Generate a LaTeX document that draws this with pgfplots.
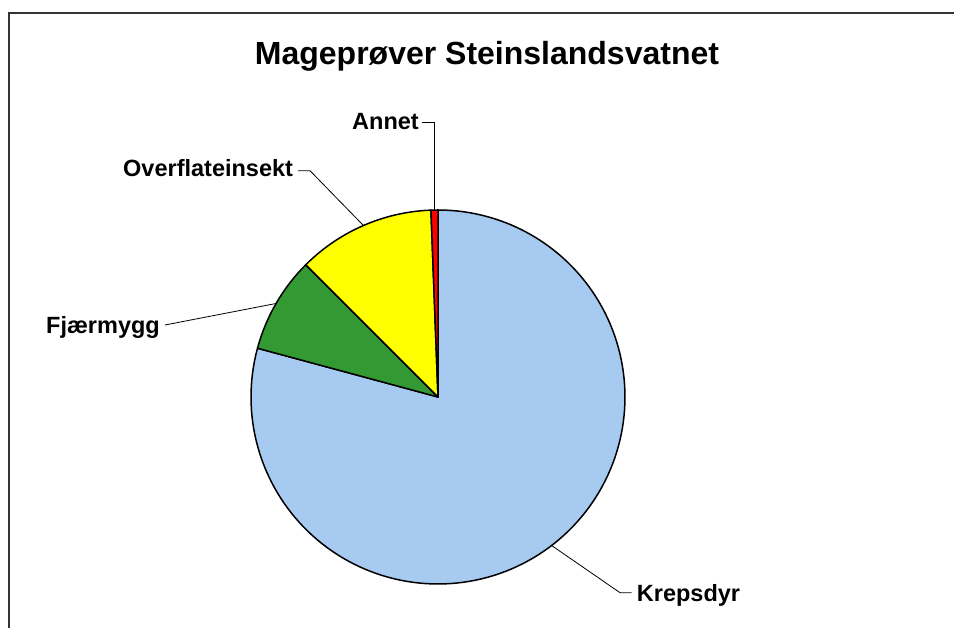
\documentclass[border=0pt]{standalone}
\usepackage{fontspec}
\setmainfont{Liberation Sans}
\usepackage{pgfplots}
\usepackage{pgfplotstable}
\pgfplotsset{compat=1.18}
\usepgfplotslibrary{polar}
\definecolor{kreps}{RGB}{166,202,240}
\definecolor{fjaer}{RGB}{51,153,51}
\definecolor{overf}{RGB}{255,255,0}
\definecolor{annet}{RGB}{255,0,0}

\pgfplotstableread{
cat value
Annet 0.6
Overflateinsekt 11.9
Fjaermygg 8.3
Krepsdyr 79.2
}\piedata

\begin{document}
\begin{tikzpicture}
\pgfplotstablegetelem{0}{value}\of\piedata \let\vA\pgfplotsretval
\pgfplotstablegetelem{1}{value}\of\piedata \let\vB\pgfplotsretval
\pgfplotstablegetelem{2}{value}\of\piedata \let\vC\pgfplotsretval
\pgfplotstablegetelem{3}{value}\of\piedata \let\vD\pgfplotsretval
\pgfmathsetmacro\aA{90}
\pgfmathsetmacro\aB{\aA+3.6*\vA}
\pgfmathsetmacro\aC{\aB+3.6*\vB}
\pgfmathsetmacro\aD{\aC+3.6*\vC}
\pgfmathsetmacro\aE{\aD+3.6*\vD}
\begin{polaraxis}[at={(438pt,231pt)}, anchor=center, scale only axis,
  width=374pt, height=374pt, hide axis, xmin=0, xmax=360, ymin=0, ymax=1, clip=false]
\addplot[fill=kreps, draw=black, line width=1.5pt, line join=round, domain=\aD:\aE, samples=150] {1} -- (axis cs:0,0) -- cycle;
\addplot[fill=fjaer, draw=black, line width=1.5pt, line join=round, domain=\aC:\aD, samples=30] {1} -- (axis cs:0,0) -- cycle;
\addplot[fill=overf, draw=black, line width=1.5pt, line join=round, domain=\aB:\aC, samples=40] {1} -- (axis cs:0,0) -- cycle;
\addplot[fill=annet, draw=black, line width=1.5pt, line join=round, domain=\aA:\aB, samples=5] {1} -- (axis cs:0,0) -- cycle;
\end{polaraxis}
\draw[line width=2pt, black!80] (9pt,0pt) -- (9pt,615pt) -- (954pt,615pt);
\node[anchor=base, inner sep=0pt] at (487pt,563pt) {\fontsize{32}{38}\selectfont\bfseries Mageprøver Steinslandsvatnet};
\begin{scope}[font=\fontsize{23.5}{28}\selectfont\bfseries]
\node[anchor=base east, inner sep=0pt] at (419pt,498pt) {Annet};
\node[anchor=base west, inner sep=0pt] at (123pt,451.3pt) {Overflateinsekt};
\node[anchor=base west, inner sep=0pt] at (46pt,294.7pt) {Fjærmygg};
\node[anchor=base west, inner sep=0pt] at (636.7pt,26.3pt) {Krepsdyr};
\end{scope}
\draw[line width=0.8pt] (421.7pt,505.3pt) -- (434.4pt,505.3pt) -- (434.4pt,417pt);
\draw[line width=0.8pt] (298pt,457.3pt) -- (310pt,457.3pt) -- (363.4pt,402.5pt);
\draw[line width=0.8pt] (165pt,303pt) -- (276pt,324.5pt);
\draw[line width=0.8pt] (551.6pt,82.5pt) -- (620pt,35.3pt) -- (631.7pt,35.3pt);
\pgfresetboundingbox
\path[use as bounding box] (0pt,0pt) rectangle (954pt,628pt);
\end{tikzpicture}
\end{document}
